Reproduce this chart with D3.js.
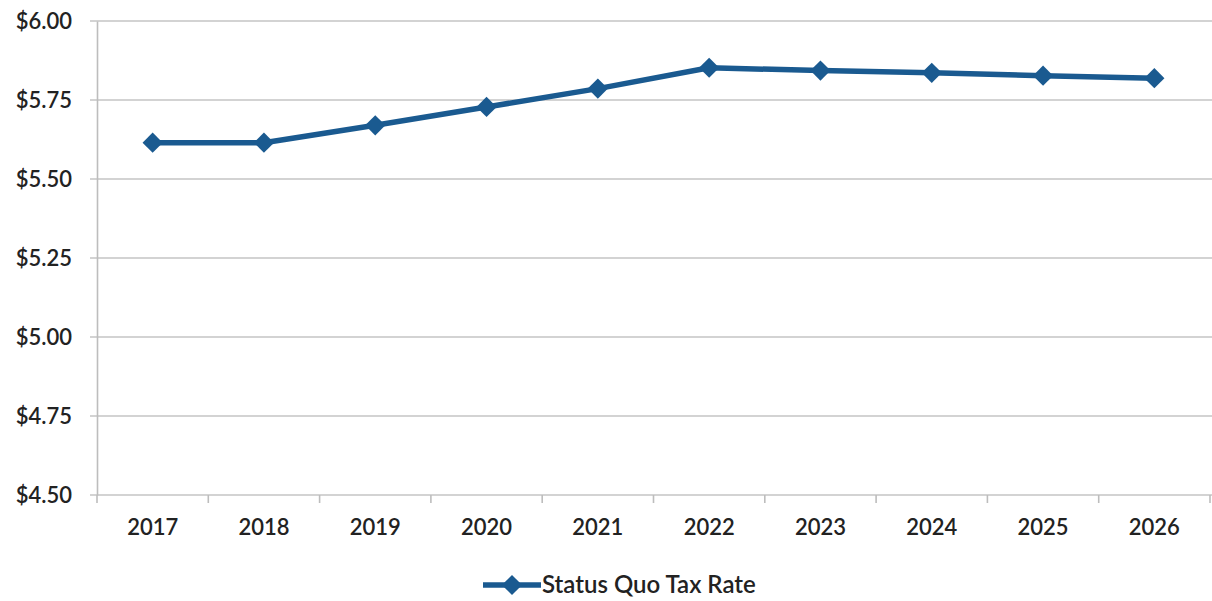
<!DOCTYPE html>
<html><head><meta charset="utf-8">
<script src="https://cdn.jsdelivr.net/npm/d3@7"></script>
<style>body{margin:0;background:#fff;} svg{display:block;} text{font-family:Lato,"Open Sans",sans-serif;fill:#222;}</style>
</head><body>
<svg id="c" width="1212" height="601"></svg>
<script>
const years = ["2017","2018","2019","2020","2021","2022","2023","2024","2025","2026"];
const taxRate = [5.615,5.615,5.67,5.728,5.786,5.852,5.843,5.836,5.827,5.819];
const yTicks = [4.50,4.75,5.00,5.25,5.50,5.75,6.00];
const seriesName = "Status Quo Tax Rate";

const svg = d3.select("#c");
const m = {l:97, r:1210, t:21, b:495};
const x = d3.scaleBand().domain(years).range([m.l, m.r]);
const y = d3.scaleLinear().domain([4.5,6.0]).range([m.b, m.t]);
const blue = "#1a5a90";

// gridlines
svg.append("g").selectAll("line").data(yTicks).join("line")
  .attr("x1", m.l-7).attr("x2", 1212).attr("y1", d=>y(d)).attr("y2", d=>y(d))
  .attr("stroke", "#c4c4c4").attr("stroke-width", 1.6);

// y axis
const ya = svg.append("g").attr("transform", `translate(${m.l},0)`)
  .call(d3.axisLeft(y).tickValues(yTicks).tickSize(0).tickPadding(25).tickFormat(d=>"$"+d.toFixed(2)));
ya.select(".domain").attr("stroke","#bdbdbd").attr("stroke-width",1.6);
ya.selectAll("text").attr("font-size",22).attr("font-weight",600).attr("fill","#2a2a2a").attr("dy","0.35em").attr("font-family","Lato, sans-serif");

// x axis
const xa = svg.append("g").attr("transform", `translate(0,${m.b})`)
  .call(d3.axisBottom(x).tickSize(0).tickPadding(24));
xa.select(".domain").remove();
xa.selectAll("text").attr("font-size",22).attr("font-weight",600).attr("fill","#222").attr("font-family","Lato, sans-serif");
const xTickPos = years.map(d=>x(d)).concat([x(years[years.length-1])+x.bandwidth()]);
svg.append("g").selectAll("line").data(xTickPos).join("line")
  .attr("x1",d=>d).attr("x2",d=>d).attr("y1",m.b).attr("y2",m.b+8)
  .attr("stroke","#bdbdbd").attr("stroke-width",1.6);

// line
const line = d3.line().x((d,i)=>x(years[i])+x.bandwidth()/2).y(d=>y(d));
svg.append("path").datum(taxRate).attr("d", line)
  .attr("fill","none").attr("stroke",blue).attr("stroke-width",5.5).attr("stroke-linejoin","round");

const diamond = d3.symbol().type(d3.symbolDiamond2).size(260);
svg.append("g").selectAll("path").data(taxRate).join("path")
  .attr("d", diamond)
  .attr("transform",(d,i)=>`translate(${x(years[i])+x.bandwidth()/2},${y(d)})`)
  .attr("fill",blue);

// legend
const lg = svg.append("g").attr("transform","translate(483,585)");
lg.append("line").attr("x1",0).attr("x2",58).attr("y1",0).attr("y2",0).attr("stroke",blue).attr("stroke-width",5.5);
lg.append("path").attr("d",diamond).attr("transform","translate(29,0)").attr("fill",blue);
lg.append("text").attr("x",59).attr("y",0).attr("dy","0.35em").attr("font-size",24).attr("font-weight",600).attr("fill","#222").text(seriesName);
</script>
</body></html>
